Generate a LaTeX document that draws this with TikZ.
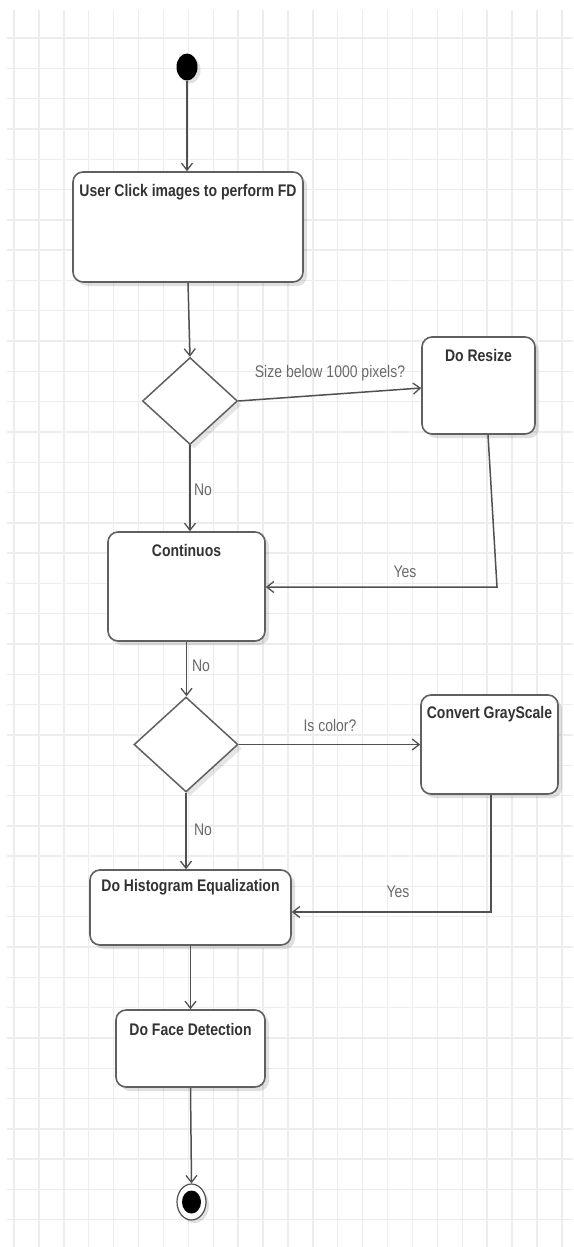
\documentclass[tikz,border=0pt]{standalone}
\usepackage{fontspec}
\setmainfont{Liberation Sans}
\usetikzlibrary{shapes.geometric,arrows.meta,shadows,calc}
\definecolor{gridc}{HTML}{EDEDED}
\definecolor{linec}{HTML}{505050}
\definecolor{boxc}{HTML}{606060}
\definecolor{txtc}{HTML}{333333}
\definecolor{lblc}{HTML}{6A6A6A}
\newcommand{\tx}[1]{\scalebox{1}[1.2]{#1}}
\tikzset{
  gridline/.style={draw=gridc, line width=1.4pt},
  actbox/.style={draw=boxc, line width=1.6pt, fill=white, rounded corners=10pt,
    inner sep=0pt, drop shadow={shadow xshift=4pt, shadow yshift=-4pt, fill=black, opacity=0.12}},
  decis/.style={draw=boxc, line width=1.5pt, fill=white, shape=diamond, inner sep=0pt,
    drop shadow={shadow xshift=4pt, shadow yshift=-4pt, fill=black, opacity=0.10}},
  boxtext/.style={text=txtc, font=\bfseries\fontsize{14}{16}\selectfont, inner sep=0pt},
  lbl/.style={text=lblc, font=\fontsize{14}{16}\selectfont, inner sep=0pt},
  flow/.style={draw=linec, line width=1.5pt, -{Straight Barb[length=7pt,width=11pt,line width=1.3pt]}},
  plain/.style={draw=linec, line width=1.5pt},
}
\begin{document}
\begin{tikzpicture}[x=1pt,y=-1pt]
\useasboundingbox (0,0) rectangle (573,1247);
\fill[white] (0,0) rectangle (573,1247);
% grid
\foreach \k in {0,...,22} {\draw[gridline] ({14+24.9*\k},10) -- ({14+24.9*\k},1247);}
\foreach \k in {0,...,39} {\draw[gridline] (7,{38+30.3*\k}) -- (573,{38+30.3*\k});}

% start
\node[shape=ellipse, fill=black, minimum width=21pt, minimum height=27pt, inner sep=0pt,
  drop shadow={shadow xshift=3pt, shadow yshift=-3pt, fill=black, opacity=0.12}] (start) at (187,67) {};

% boxes
\node[actbox, minimum width=230pt, minimum height=110pt] (box1) at (188,227) {};
\node[boxtext] (t1) at (188,192) {\tx{User Click images to perform FD}};

\node[decis, minimum width=95pt, minimum height=87pt] (d1) at (190,401) {};

\node[actbox, minimum width=113pt, minimum height=97pt] (resize) at (478.5,385.5) {};
\node[boxtext] (t2) at (478.5,355) {\tx{Do Resize}};

\node[actbox, minimum width=157pt, minimum height=109pt] (cont) at (186.5,586.5) {};
\node[boxtext] (t3) at (186.5,550) {\tx{Continuos}};

\node[decis, minimum width=104pt, minimum height=95pt] (d2) at (186,744.5) {};

\node[actbox, minimum width=137pt, minimum height=99pt] (gray) at (489.5,744.5) {};
\node[boxtext] (t4) at (489.5,714) {\tx{Convert GrayScale}};

\node[actbox, minimum width=201pt, minimum height=75pt] (hist) at (190.5,907.5) {};
\node[boxtext] (t5) at (190.5,887) {\tx{Do Histogram Equalization}};

\node[actbox, minimum width=149pt, minimum height=77pt] (face) at (190.5,1048.5) {};
\node[boxtext] (t6) at (190.5,1029) {\tx{Do Face Detection}};

% end
\node[shape=ellipse, draw=linec, line width=1.2pt, fill=white, minimum width=29pt, minimum height=36pt, inner sep=0pt,
  drop shadow={shadow xshift=3pt, shadow yshift=-3pt, fill=black, opacity=0.12}] (endo) at (191.5,1202) {};
\node[shape=ellipse, fill=black, minimum width=19pt, minimum height=23pt, inner sep=0pt] (endi) at (191.5,1202) {};

% connectors
\coordinate (c1) at (497,587);
\coordinate (c2) at (491,912);
\draw[flow] (start.south) -- (start.south |- box1.north);
\draw[flow] (box1.south) -- (d1.north);
\draw[flow] (d1.east) -- ($(resize.west)+(0,2.5)$);
\draw[flow] ($(resize.south)+(9.5,0)$) -- (c1) -- (cont.east |- c1);
\draw[flow] (d1.south) -- (d1.south |- cont.north);
\draw[flow] (cont.south) -- (cont.south |- d2.north);
\draw[flow] (d2.east) -- (gray.west);
\draw[flow] ($(gray.south)+(1.5,0)$) -- (c2) -- (hist.east |- c2);
\draw[flow] (d2.south) -- (d2.south |- hist.north);
\draw[flow] (hist.south) -- (face.north);
\draw[flow] (face.south) -- (endo.north);

% labels
\node[lbl] (l1) at (330,373) {\tx{Size below 1000 pixels?}};
\node[lbl] (l2) at (405,572) {\tx{Yes}};
\node[lbl] (l3) at (203,490) {\tx{No}};
\node[lbl] (l4) at (201,666) {\tx{No}};
\node[lbl] (l5) at (330,725) {\tx{Is color?}};
\node[lbl] (l6) at (398,892) {\tx{Yes}};
\node[lbl] (l7) at (203,830) {\tx{No}};
\end{tikzpicture}
\end{document}
